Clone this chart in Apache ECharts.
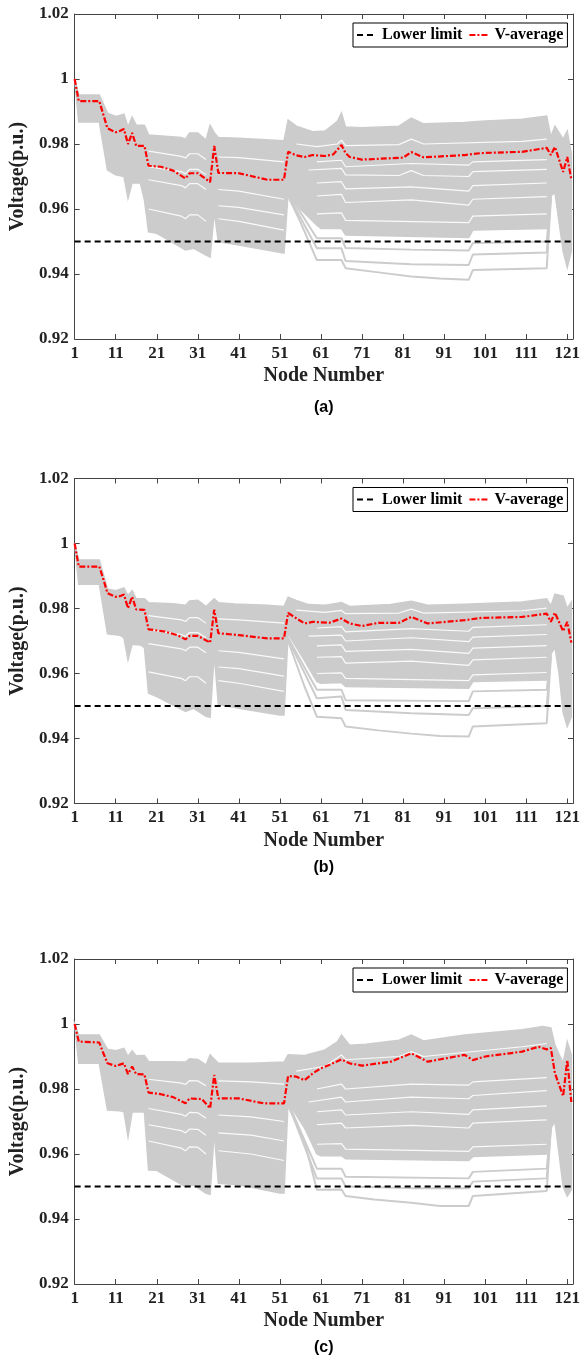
<!DOCTYPE html>
<html>
<head>
<meta charset="utf-8">
<script src="https://cdn.jsdelivr.net/npm/echarts@6/dist/echarts.min.js"></script>
<style>
html, body { margin: 0; padding: 0; background: #fff; }
#chart { width: 587px; height: 1360px; }
</style>
</head>
<body>
<div id="chart"></div>
<script>
// axis settings
var nodeTicks = [1, 11, 21, 31, 41, 51, 61, 71, 81, 91, 101, 111, 121];
var xMin = 1, xMax = 122.4;
var yMin = 0.92, yMax = 1.02, yStep = 0.02;
var lowerLimit = 0.95;

// ---- panel (a) ----
var avgA = [[1,1.0000],[2,0.9932],[7,0.9932],[8,0.9890],[9,0.9848],[11,0.9836],[12,0.9840],[13,0.9846],[14,0.9800],[15,0.9834],[16,0.9794],[18,0.9794],[19,0.9733],[22,0.9730],[25,0.9718],[28,0.9694],[29,0.9710],[31,0.9710],[34,0.9683],[35,0.9794],[36,0.9711],[41,0.9710],[48,0.9690],[52,0.9690],[53,0.9776],[55,0.9765],[57,0.9760],[59,0.9766],[62,0.9763],[64,0.9768],[66,0.9797],[67,0.9772],[68,0.9760],[71,0.9752],[81,0.9758],[83,0.9775],[86,0.9759],[96,0.9766],[100,0.9772],[110,0.9776],[116,0.9788],[117,0.9766],[118,0.9791],[120,0.9714],[121,0.9760],[122,0.9690]];
var upperA = [[1,1.0000],[2,0.9951],[7,0.9951],[9,0.9895],[11,0.9885],[12,0.9888],[13,0.9892],[14,0.9852],[15,0.9883],[16,0.9858],[18,0.9858],[19,0.9828],[27,0.9820],[28,0.9815],[29,0.9834],[31,0.9834],[33,0.9812],[34,0.9858],[35,0.9835],[36,0.9820],[41,0.9818],[52,0.9810],[53,0.9874],[55,0.9855],[59,0.9838],[62,0.9840],[65,0.9870],[66,0.9895],[67,0.9852],[71,0.9850],[80,0.9855],[83,0.9880],[86,0.9862],[96,0.9866],[100,0.9870],[110,0.9876],[116,0.9886],[117,0.9822],[118,0.9855],[119,0.9835],[120,0.9815],[121,0.9840],[122,0.9770]];
var lowerA = [[1,1.0000],[2,0.9868],[7,0.9868],[9,0.9720],[11,0.9705],[13,0.9700],[14,0.9633],[15,0.9680],[17,0.9680],[18,0.9628],[19,0.9530],[21,0.9525],[26,0.9489],[28,0.9474],[30,0.9479],[33,0.9458],[34,0.9452],[35,0.9590],[36,0.9500],[41,0.9489],[52,0.9464],[53,0.9650],[56,0.9600],[60,0.9550],[61,0.9540],[66,0.9540],[67,0.9520],[97,0.9512],[98,0.9535],[116,0.9540],[117,0.9640],[118,0.9650],[119,0.9560],[120,0.9470],[121,0.9420],[122,0.9470]];
var lowA1 = [[53,0.9640],[56,0.9560],[60,0.9443],[66,0.9443],[67,0.9418],[75,0.9405],[83,0.9392],[90,0.9386],[97,0.9382],[98,0.9412],[116,0.9418],[117,0.9630]];
var lowA2 = [[53,0.9645],[60,0.9479],[66,0.9479],[67,0.9440],[83,0.9430],[97,0.9428],[98,0.9460],[116,0.9466],[117,0.9635]];
var lowA3 = [[53,0.9650],[60,0.9510],[66,0.9510],[67,0.9480],[83,0.9475],[97,0.9472],[98,0.9495],[116,0.9500],[117,0.9640]];
// white gaps between the gray profiles
var gapA1 = [[19,0.9778],[27,0.9762],[28,0.9757],[29,0.9770],[31,0.9770],[33,0.9752]];
var gapA2 = [[19,0.9690],[27,0.9672],[28,0.9665],[29,0.9678],[31,0.9678],[33,0.9660]];
var gapA3 = [[19,0.9600],[27,0.9578],[28,0.9570],[29,0.9582],[31,0.9582],[33,0.9562]];
var gapA4 = [[36,0.9760],[41,0.9758],[52,0.9745]];
var gapA5 = [[36,0.9660],[41,0.9655],[52,0.9630]];
var gapA6 = [[36,0.9570],[41,0.9562],[52,0.9535]];
var gapA7 = [[55,0.9800],[60,0.9792],[65,0.9800],[66,0.9812],[67,0.9795],[80,0.9798],[83,0.9815],[86,0.9800],[110,0.9808],[116,0.9815]];
var gapA8 = [[58,0.9720],[66,0.9725],[67,0.9705],[80,0.9703],[83,0.9718],[86,0.9703],[97,0.9700],[98,0.9715],[116,0.9722]];
var gapA9 = [[60,0.9640],[66,0.9645],[67,0.9620],[83,0.9628],[97,0.9612],[98,0.9630],[116,0.9638]];
var gapA10 = [[60,0.9585],[66,0.9588],[67,0.9565],[97,0.9558],[98,0.9578],[116,0.9585]];
var gapA11 = [[60,0.9745],[66,0.9750],[67,0.9730],[83,0.9740],[97,0.9735],[98,0.9745],[116,0.9752]];
var gapA12 = [[60,0.9680],[66,0.9684],[67,0.9662],[83,0.9668],[97,0.9655],[98,0.9672],[116,0.9680]];
var gapA13 = [[19,0.9730],[27,0.9715],[28,0.9708],[29,0.9722],[31,0.9722],[33,0.9705]];
var gapA14 = [[36,0.9610],[41,0.9605],[52,0.9582]];

// ---- panel (b) ----
var avgB = [[1,1.0000],[2,0.9929],[7,0.9929],[8,0.9890],[9,0.9847],[11,0.9836],[12,0.9838],[13,0.9843],[14,0.9801],[15,0.9836],[16,0.9797],[18,0.9796],[19,0.9736],[23,0.9729],[26,0.9718],[28,0.9705],[29,0.9716],[31,0.9716],[34,0.9695],[35,0.9796],[36,0.9724],[41,0.9718],[48,0.9708],[52,0.9708],[53,0.9786],[55,0.9770],[57,0.9754],[59,0.9759],[63,0.9756],[66,0.9769],[68,0.9754],[71,0.9746],[75,0.9756],[80,0.9756],[83,0.9774],[87,0.9754],[96,0.9764],[100,0.9771],[110,0.9774],[116,0.9784],[117,0.9759],[118,0.9787],[120,0.9730],[121,0.9759],[122,0.9695]];
var upperB = [[1,1.0000],[2,0.9949],[7,0.9949],[9,0.9860],[11,0.9855],[13,0.9863],[14,0.9840],[15,0.9855],[16,0.9830],[18,0.9830],[19,0.9818],[25,0.9815],[28,0.9810],[29,0.9823],[31,0.9825],[33,0.9806],[35,0.9830],[36,0.9818],[40,0.9814],[48,0.9810],[52,0.9806],[53,0.9835],[55,0.9825],[58,0.9812],[62,0.9810],[66,0.9818],[68,0.9806],[78,0.9812],[83,0.9822],[87,0.9810],[96,0.9813],[110,0.9820],[116,0.9830],[117,0.9808],[118,0.9844],[120,0.9838],[121,0.9800],[122,0.9820]];
var lowerB = [[1,1.0000],[2,0.9875],[7,0.9875],[9,0.9722],[12,0.9718],[13,0.9710],[14,0.9642],[15,0.9690],[17,0.9688],[18,0.9680],[19,0.9539],[21,0.9529],[28,0.9483],[30,0.9493],[33,0.9468],[34,0.9465],[35,0.9660],[36,0.9505],[41,0.9493],[51,0.9472],[52,0.9472],[53,0.9722],[57,0.9640],[60,0.9575],[61,0.9570],[66,0.9572],[67,0.9560],[97,0.9555],[98,0.9575],[116,0.9580],[117,0.9660],[118,0.9680],[119,0.9600],[120,0.9480],[121,0.9437],[122,0.9467]];
var lowB1 = [[53,0.9700],[57,0.9560],[60,0.9467],[66,0.9462],[67,0.9437],[75,0.9425],[83,0.9415],[90,0.9408],[97,0.9406],[98,0.9437],[116,0.9447],[117,0.9650]];
var lowB2 = [[53,0.9705],[60,0.9524],[66,0.9529],[67,0.9488],[83,0.9478],[97,0.9472],[98,0.9493],[116,0.9500],[117,0.9655]];
var lowB3 = [[53,0.9710],[60,0.9550],[66,0.9550],[67,0.9518],[97,0.9515],[98,0.9545],[116,0.9550],[117,0.9660]];
var gapB1 = [[19,0.9778],[27,0.9765],[28,0.9760],[29,0.9772],[31,0.9772],[33,0.9755]];
var gapB2 = [[19,0.9692],[27,0.9676],[28,0.9670],[29,0.9681],[31,0.9681],[33,0.9664]];
var gapB3 = [[19,0.9605],[27,0.9585],[28,0.9578],[29,0.9590],[31,0.9590],[33,0.9570]];
var gapB4 = [[36,0.9768],[41,0.9765],[52,0.9755]];
var gapB5 = [[36,0.9670],[41,0.9665],[52,0.9645]];
var gapB6 = [[36,0.9578],[41,0.9570],[52,0.9545]];
var gapB7 = [[55,0.9795],[62,0.9788],[66,0.9794],[67,0.9784],[80,0.9786],[83,0.9798],[86,0.9786],[110,0.9793],[116,0.9801]];
var gapB8 = [[58,0.9715],[66,0.9718],[67,0.9700],[83,0.9710],[97,0.9698],[98,0.9712],[116,0.9720]];
var gapB9 = [[60,0.9650],[66,0.9652],[67,0.9632],[83,0.9638],[97,0.9625],[98,0.9642],[116,0.9650]];
var gapB10 = [[60,0.9600],[66,0.9602],[67,0.9585],[97,0.9578],[98,0.9596],[116,0.9603]];
var gapB11 = [[60,0.9740],[66,0.9744],[67,0.9728],[83,0.9738],[97,0.9730],[98,0.9742],[116,0.9750]];
var gapB12 = [[60,0.9685],[66,0.9688],[67,0.9668],[83,0.9674],[97,0.9662],[98,0.9678],[116,0.9686]];
var gapB13 = [[19,0.9735],[27,0.9720],[28,0.9714],[29,0.9726],[31,0.9726],[33,0.9710]];
var gapB14 = [[36,0.9620],[41,0.9615],[52,0.9592]];

// ---- panel (c) ----
var avgC = [[1,1.0000],[2,0.9946],[7,0.9943],[8,0.9910],[9,0.9879],[11,0.9871],[12,0.9875],[13,0.9879],[14,0.9846],[15,0.9869],[16,0.9846],[18,0.9845],[19,0.9789],[22,0.9784],[25,0.9775],[28,0.9756],[29,0.9771],[32,0.9769],[34,0.9741],[35,0.9843],[36,0.9771],[41,0.9771],[47,0.9756],[52,0.9756],[53,0.9840],[55,0.9838],[57,0.9827],[59,0.9848],[61,0.9864],[63,0.9874],[66,0.9891],[68,0.9879],[71,0.9872],[78,0.9884],[83,0.9910],[87,0.9884],[96,0.9905],[98,0.9889],[101,0.9900],[110,0.9915],[114,0.9930],[116,0.9922],[117,0.9926],[118,0.9848],[120,0.9778],[121,0.9889],[122,0.9760]];
var upperC = [[1,1.0000],[2,0.9966],[7,0.9966],[9,0.9922],[11,0.9918],[13,0.9925],[14,0.9900],[15,0.9918],[16,0.9902],[18,0.9903],[19,0.9885],[28,0.9883],[29,0.9893],[31,0.9891],[33,0.9874],[34,0.9905],[36,0.9879],[44,0.9879],[52,0.9883],[53,0.9905],[57,0.9903],[62,0.9920],[65,0.9945],[66,0.9966],[68,0.9935],[72,0.9938],[80,0.9950],[83,0.9966],[86,0.9948],[96,0.9966],[110,0.9982],[115,0.9992],[117,0.9988],[118,0.9935],[120,0.9879],[121,0.9945],[122,0.9905]];
var lowerC = [[1,1.0000],[2,0.9879],[7,0.9879],[9,0.9735],[12,0.9733],[13,0.9730],[14,0.9653],[15,0.9729],[18,0.9729],[19,0.9551],[21,0.9550],[28,0.9499],[30,0.9505],[33,0.9479],[34,0.9476],[35,0.9669],[36,0.9510],[41,0.9505],[51,0.9480],[52,0.9480],[53,0.9760],[57,0.9680],[60,0.9600],[61,0.9595],[66,0.9595],[67,0.9585],[97,0.9580],[98,0.9592],[116,0.9600],[117,0.9680],[118,0.9700],[119,0.9600],[120,0.9500],[121,0.9470],[122,0.9490]];
var lowC1 = [[53,0.9750],[57,0.9640],[60,0.9490],[66,0.9491],[67,0.9471],[74,0.9460],[83,0.9450],[90,0.9440],[97,0.9440],[98,0.9471],[116,0.9486],[117,0.9680]];
var lowC2 = [[53,0.9755],[60,0.9525],[66,0.9525],[67,0.9500],[83,0.9495],[97,0.9495],[98,0.9515],[116,0.9525],[117,0.9680]];
var lowC3 = [[53,0.9758],[60,0.9555],[66,0.9555],[67,0.9530],[97,0.9525],[98,0.9545],[116,0.9555],[117,0.9680]];
var gapC1 = [[19,0.9830],[27,0.9818],[28,0.9814],[29,0.9826],[31,0.9825],[33,0.9810]];
var gapC2 = [[19,0.9740],[27,0.9722],[28,0.9716],[29,0.9728],[31,0.9727],[33,0.9710]];
var gapC3 = [[19,0.9640],[27,0.9618],[28,0.9610],[29,0.9622],[31,0.9621],[33,0.9600]];
var gapC4 = [[36,0.9825],[44,0.9822],[52,0.9815]];
var gapC5 = [[36,0.9720],[44,0.9714],[52,0.9700]];
var gapC6 = [[36,0.9610],[44,0.9600],[52,0.9580]];
var gapC7 = [[55,0.9855],[62,0.9870],[66,0.9905],[67,0.9890],[80,0.9900],[83,0.9915],[86,0.9900],[110,0.9930],[116,0.9940]];
var gapC8 = [[58,0.9760],[66,0.9775],[67,0.9760],[83,0.9775],[97,0.9770],[98,0.9780],[116,0.9795]];
var gapC9 = [[60,0.9690],[66,0.9695],[67,0.9680],[83,0.9688],[97,0.9680],[98,0.9695],[116,0.9705]];
var gapC10 = [[60,0.9630],[66,0.9632],[67,0.9615],[97,0.9608],[98,0.9622],[116,0.9630]];
var gapC11 = [[60,0.9800],[66,0.9815],[67,0.9800],[83,0.9815],[97,0.9812],[98,0.9822],[116,0.9835]];
var gapC12 = [[60,0.9730],[66,0.9736],[67,0.9720],[83,0.9730],[97,0.9722],[98,0.9736],[116,0.9748]];
var gapC13 = [[19,0.9690],[27,0.9672],[28,0.9665],[29,0.9677],[31,0.9676],[33,0.9658]];
var gapC14 = [[36,0.9665],[44,0.9658],[52,0.9640]];

var panels = [
    { tag: '(a)', top: 14,    avg: avgA, upper: upperA, lower: lowerA, low: [lowA1, lowA2, lowA3],
      gaps: [gapA1, gapA2, gapA3, gapA4, gapA5, gapA6, gapA7, gapA8, gapA9, gapA10, gapA11, gapA12, gapA13, gapA14] },
    { tag: '(b)', top: 478.5, avg: avgB, upper: upperB, lower: lowerB, low: [lowB1, lowB2, lowB3],
      gaps: [gapB1, gapB2, gapB3, gapB4, gapB5, gapB6, gapB7, gapB8, gapB9, gapB10, gapB11, gapB12, gapB13, gapB14] },
    { tag: '(c)', top: 959,   avg: avgC, upper: upperC, lower: lowerC, low: [lowC1, lowC2, lowC3],
      gaps: [gapC1, gapC2, gapC3, gapC4, gapC5, gapC6, gapC7, gapC8, gapC9, gapC10, gapC11, gapC12, gapC13, gapC14] }
];

var gridLeft = 74.5, gridWidth = 498.5, gridHeight = 325;
var serif = 'Liberation Serif';
var axisColor = '#444';
var grayLine = '#cccccc';

var grids = [], xAxes = [], yAxes = [], series = [], legends = [], texts = [];

panels.forEach(function (p, i) {
    grids.push({ left: gridLeft, top: p.top, width: gridWidth, height: gridHeight, containLabel: false });

    // bottom x axis with labels
    xAxes.push({
        type: 'value', gridIndex: i, min: xMin, max: xMax, position: 'bottom',
        name: 'Node Number', nameLocation: 'middle', nameGap: 27,
        nameTextStyle: { fontFamily: serif, fontWeight: 'bold', fontSize: 20, color: '#222' },
        axisLine: { show: true, lineStyle: { color: axisColor, width: 1 } },
        axisTick: { show: true, inside: true, length: 5, customValues: nodeTicks, lineStyle: { color: axisColor } },
        axisLabel: { show: true, customValues: nodeTicks, margin: 6, fontFamily: serif, fontWeight: 'bold', fontSize: 17, color: '#222' },
        splitLine: { show: false }
    });
    // top x axis, ticks only
    xAxes.push({
        type: 'value', gridIndex: i, min: xMin, max: xMax, position: 'top',
        axisLine: { show: true, lineStyle: { color: axisColor, width: 1 } },
        axisTick: { show: true, inside: true, length: 5, customValues: nodeTicks, lineStyle: { color: axisColor } },
        axisLabel: { show: false },
        splitLine: { show: false }
    });
    // left y axis with labels
    yAxes.push({
        type: 'value', gridIndex: i, min: yMin, max: yMax, interval: yStep, position: 'left',
        name: 'Voltage(p.u.)', nameLocation: 'middle', nameGap: 44,
        nameTextStyle: { fontFamily: serif, fontWeight: 'bold', fontSize: 20, color: '#222' },
        axisLine: { show: true, lineStyle: { color: axisColor, width: 1 } },
        axisTick: { show: true, inside: true, length: 5, lineStyle: { color: axisColor } },
        axisLabel: {
            margin: 6, fontFamily: serif, fontWeight: 'bold', fontSize: 17, color: '#222',
            formatter: function (v) { return String(Number(v.toFixed(2))); }
        },
        splitLine: { show: false }
    });
    // right y axis, ticks only
    yAxes.push({
        type: 'value', gridIndex: i, min: yMin, max: yMax, interval: yStep, position: 'right',
        axisLine: { show: true, lineStyle: { color: axisColor, width: 1 } },
        axisTick: { show: true, inside: true, length: 5, lineStyle: { color: axisColor } },
        axisLabel: { show: false },
        splitLine: { show: false }
    });

    var xi = 2 * i, yi = 2 * i;

    // dense gray band between envelopes
    series.push({
        type: 'custom', name: 'band' + i, xAxisIndex: xi, yAxisIndex: yi, z: 1, silent: true,
        data: [[xMin, yMin]],
        renderItem: (function (up, lo) {
            return function (params, api) {
                var pts = [];
                up.forEach(function (d) { pts.push(api.coord(d)); });
                lo.slice().reverse().forEach(function (d) { pts.push(api.coord(d)); });
                return { type: 'polygon', shape: { points: pts }, style: { fill: grayLine, stroke: grayLine, lineWidth: 1.5 } };
            };
        })(p.upper, p.lower)
    });

    // thin white gaps inside the band
    p.gaps.forEach(function (arr, k) {
        series.push({
            type: 'line', name: 'gap' + i + '_' + k, xAxisIndex: xi, yAxisIndex: yi, z: 2, silent: true,
            data: arr, symbol: 'none', lineStyle: { color: '#ffffff', width: 1.2, opacity: 0.9 }
        });
    });

    // individual low profiles
    p.low.forEach(function (arr, k) {
        series.push({
            type: 'line', name: 'low' + i + '_' + k, xAxisIndex: xi, yAxisIndex: yi, z: 3, silent: true,
            data: arr, symbol: 'none', lineStyle: { color: grayLine, width: 2 }
        });
    });

    series.push({
        type: 'line', name: 'Lower limit', xAxisIndex: xi, yAxisIndex: yi, z: 4,
        data: [[xMin, lowerLimit], [xMax, lowerLimit]], symbol: 'none',
        itemStyle: { color: '#000' },
        lineStyle: { color: '#000', width: 2, type: [6, 4] }
    });
    series.push({
        type: 'line', name: 'V-average', xAxisIndex: xi, yAxisIndex: yi, z: 5,
        data: p.avg, symbol: 'none',
        itemStyle: { color: '#ff0000' },
        lineStyle: { color: '#ff0000', width: 2.2, type: [6, 2, 2, 2] }
    });

    legends.push({
        data: ['Lower limit', 'V-average'],
        left: 353, top: p.top + 9,
        orient: 'horizontal',
        borderColor: '#000', borderWidth: 1, backgroundColor: '#fff',
        padding: [4, 4, 4, 3],
        itemWidth: 20, itemHeight: 12, itemGap: 6,
        selectedMode: false,
        itemStyle: { opacity: 0 },
        textStyle: { fontFamily: serif, fontWeight: 'bold', fontSize: 16, color: '#000' }
    });

    texts.push({
        type: 'text', x: gridLeft + gridWidth / 2, y: p.top + gridHeight + (i === 0 ? 69 : 64),
        style: { text: p.tag, font: 'bold 16px "Liberation Sans"', fill: '#000', textAlign: 'center', textVerticalAlign: 'middle' }
    });
});

var myChart = echarts.init(document.getElementById('chart'), null, { renderer: 'canvas' });
myChart.setOption({
    animation: false,
    backgroundColor: '#fff',
    grid: grids,
    xAxis: xAxes,
    yAxis: yAxes,
    legend: legends,
    graphic: texts,
    series: series
});
</script>
</body>
</html>
